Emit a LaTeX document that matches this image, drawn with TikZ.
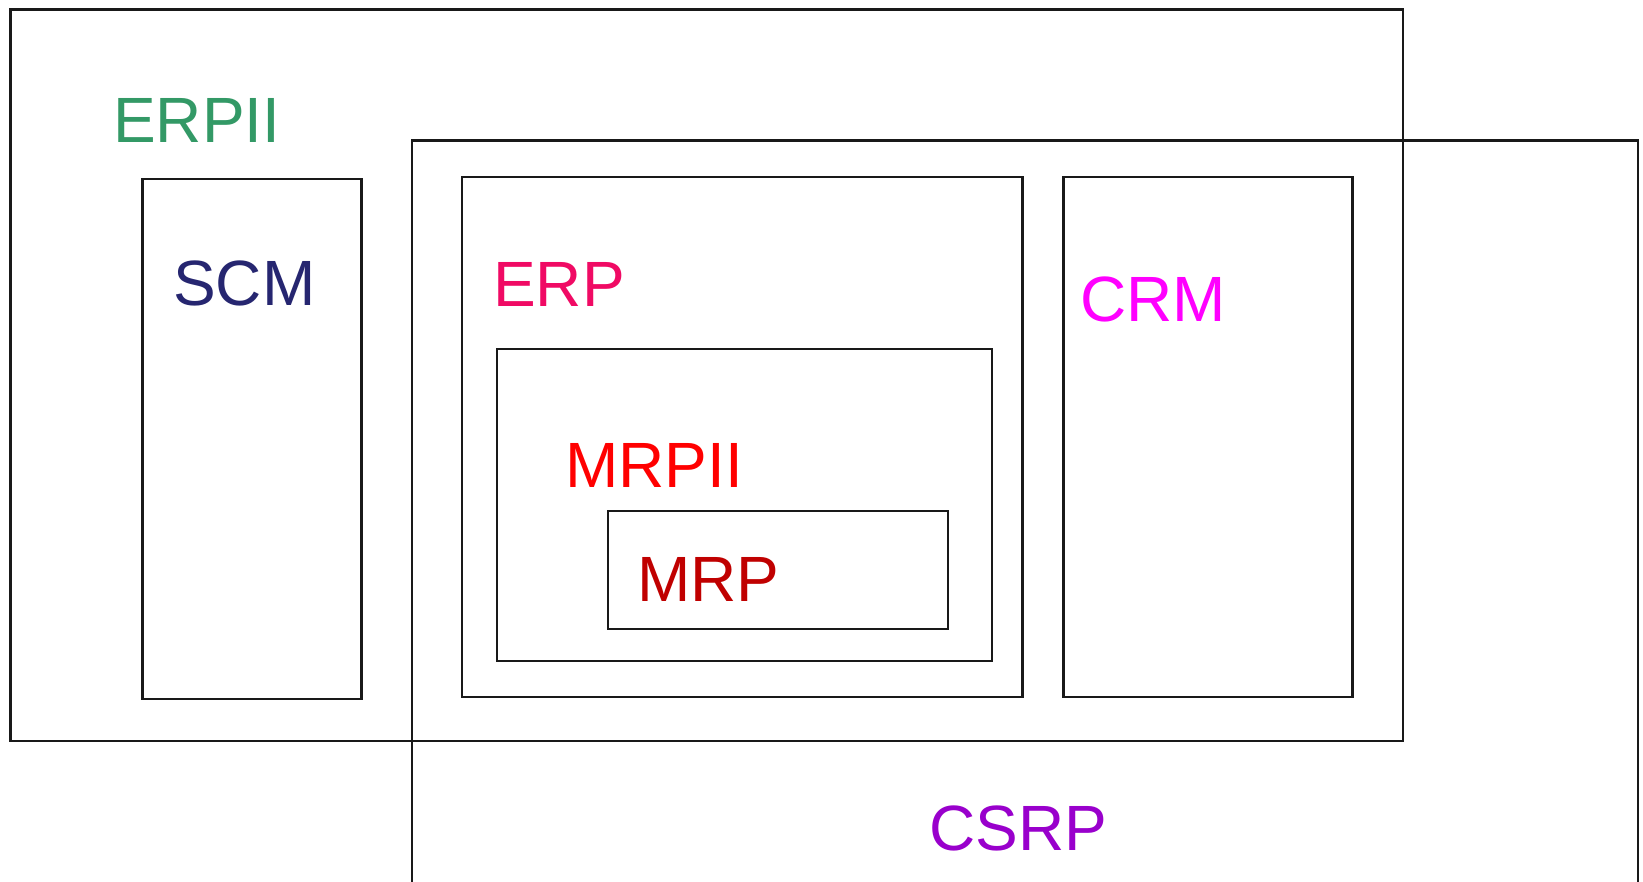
\documentclass[tikz,border=0pt]{standalone}
\usepackage{fontspec}
\setmainfont{Liberation Sans}
\definecolor{erpiigreen}{RGB}{51,153,102}
\definecolor{scmnavy}{RGB}{38,38,112}
\definecolor{erppink}{RGB}{240,10,100}
\definecolor{crmmagenta}{RGB}{255,0,255}
\definecolor{mrpiired}{RGB}{255,0,0}
\definecolor{mrpdark}{RGB}{192,0,0}
\definecolor{csrppurple}{RGB}{153,0,204}
\begin{document}
\begin{tikzpicture}[x=1pt,y=-1pt]
\tikzset{box/.style={draw=black!90,line width=2.8pt},
    lbl/.style={anchor=base west,inner sep=0pt,font=\fontsize{64}{64}\selectfont}}
\useasboundingbox (0,0) rectangle (1643,881);
\clip (0,0) rectangle (1643,881);
\fill[white] (0,0) rectangle (1643,881);
% outer frames
\draw[box] (10.5,9.5) rectangle (1403,741);
\draw[box] (412,140.5) rectangle (1638,950);
% inner frames
\draw[box] (142.5,179) rectangle (361.5,699);
\draw[box] (462,177) rectangle (1022.5,697);
\draw[box] (497,349) rectangle (992,661);
\draw[box] (608,511) rectangle (948,629);
\draw[box] (1063.5,177) rectangle (1352.5,697);
% labels
\node[lbl,text=erpiigreen] (erpii) at (113,142) {ERPII};
\node[lbl,text=scmnavy] (scm) at (173,305) {SCM};
\node[lbl,text=erppink] (erp) at (493,306) {ERP};
\node[lbl,text=crmmagenta] (crm) at (1080,321) {CRM};
\node[lbl,text=mrpiired] (mrpii) at (565,487) {MRPII};
\node[lbl,text=mrpdark] (mrp) at (637,601) {MRP};
\node[lbl,text=csrppurple] (csrp) at (929,850) {CSRP};
\end{tikzpicture}
\end{document}
